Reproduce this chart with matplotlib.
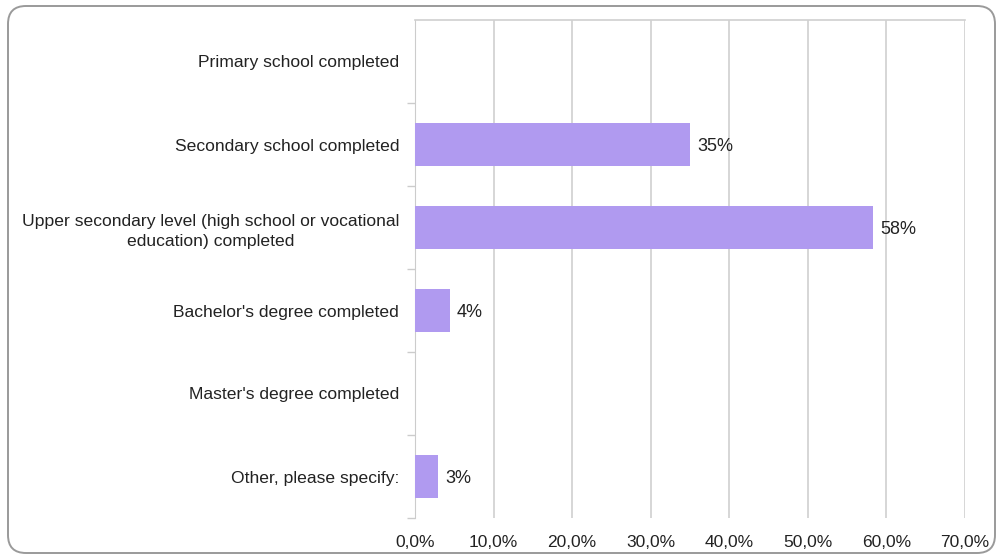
import matplotlib
matplotlib.use("Agg")
import matplotlib.pyplot as plt
from matplotlib.patches import FancyBboxPatch
from matplotlib.ticker import FuncFormatter, MultipleLocator

categories = [
    "Primary school completed",
    "Secondary school completed",
    "Upper secondary level (high school or vocational\neducation) completed",
    "Bachelor's degree completed",
    "Master's degree completed",
    "Other, please specify:",
]
values = [0.0, 35.0, 58.3, 4.4, 0.0, 2.9]
value_labels = ["", "35%", "58%", "4%", "", "3%"]

plt.rcParams["font.family"] = ["Liberation Sans", "DejaVu Sans"]

W, H, DPI = 998, 555, 100
fig = plt.figure(figsize=(W / DPI, H / DPI), dpi=DPI)

# rounded frame around the whole figure
frame = FancyBboxPatch(
    (8 / W, 2 / H), (995 - 8) / W, (551 - 4) / H,
    boxstyle="round,pad=0,rounding_size=0.018",
    transform=fig.transFigure, fill=False, edgecolor="#9a9a9a",
    linewidth=1.4, mutation_aspect=W / H,
)
fig.patches.append(frame)

left, right, top, bottom = 415, 965, 20, 518
ax = fig.add_axes([left / W, 1 - bottom / H, (right - left) / W, (bottom - top) / H])

y = list(range(len(categories)))
ax.barh(y, values, height=0.52, color="#b09af0", zorder=3)
for yi, v, lab in zip(y, values, value_labels):
    if lab:
        ax.text(v + 0.9, yi + 0.02, lab, va="center", ha="left", fontsize=13, color="#222222")

ax.set_xlim(0, 70)
ax.set_ylim(len(categories) - 0.5, -0.5)
ax.xaxis.set_major_locator(MultipleLocator(10))
ax.xaxis.set_major_formatter(FuncFormatter(lambda v, p: f"{v:.1f}".replace(".", ",") + "%"))
ax.set_yticks(y)
ax.set_yticklabels(categories, fontsize=12.6, color="#222222", ha="right",
                   multialignment="center", linespacing=1.45)
ax.tick_params(axis="y", length=0, pad=11.5)
ax.tick_params(axis="x", length=0, pad=12, labelsize=12.5, labelcolor="#222222")

# small ticks at category boundaries
ax.set_yticks([i + 0.5 for i in range(len(categories))], minor=True)
ax.tick_params(axis="y", which="minor", length=6, color="#cccccc", width=1)

ax.grid(axis="x", color="#d0d0d0", linewidth=1.2, zorder=0)
for s in ["right", "bottom"]:
    ax.spines[s].set_visible(False)
ax.spines["left"].set_color("#cccccc")
ax.spines["top"].set_color("#d0d0d0")
ax.spines["top"].set_linewidth(1.2)

fig.savefig("out.png", dpi=DPI)
